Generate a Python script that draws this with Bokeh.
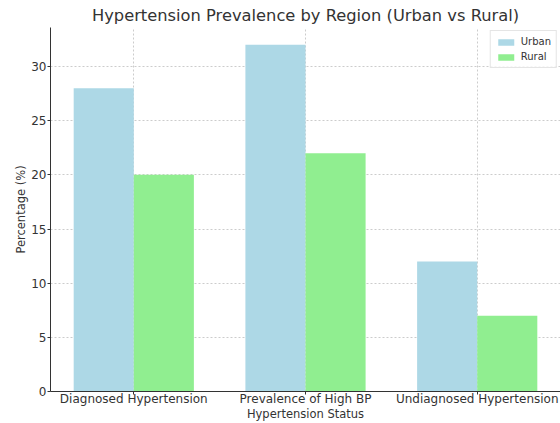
from bokeh.plotting import figure
from bokeh.models import ColumnDataSource, FixedTicker, Legend, LegendItem, Range1d
from bokeh.transform import dodge
from bokeh.embed import file_html
from bokeh.resources import INLINE

categories = ["Diagnosed Hypertension", "Prevalence of High BP", "Undiagnosed Hypertension"]
urban = [28, 32, 12]
rural = [20, 22, 7]
y_ticks = [0, 5, 10, 15, 20, 25, 30]

FONT = "DejaVu Sans"
TXT = "#333333"

src = ColumnDataSource(dict(x=list(range(len(categories))), urban=urban, rural=rural))

p = figure(width=560, height=423, output_backend="svg", toolbar_location=None,
           x_range=Range1d(-0.485, len(categories) - 1 + 0.485),
           y_range=Range1d(0, max(urban) * 1.05),
           min_border_left=50, min_border_right=0, min_border_top=0, min_border_bottom=0)

r1 = p.vbar(x=dodge("x", -0.175, range=p.x_range), top="urban", width=0.35, source=src,
            fill_color="#ADD8E6", line_color=None)
r2 = p.vbar(x=dodge("x", 0.175, range=p.x_range), top="rural", width=0.35, source=src,
            fill_color="#90EE90", line_color=None)

p.title.text = "Hypertension Prevalence by Region (Urban vs Rural)"
p.title.align = "center"
p.title.text_font = FONT
p.title.text_font_size = "16.3px"
p.title.text_font_style = "normal"
p.title.text_color = TXT
p.title.standoff = 6

p.outline_line_color = None

p.xaxis.ticker = FixedTicker(ticks=list(range(len(categories))))
p.xaxis.major_label_overrides = {i: c for i, c in enumerate(categories)}
p.yaxis.ticker = FixedTicker(ticks=y_ticks)

p.xaxis.axis_label = "Hypertension Status"
p.yaxis.axis_label = "Percentage (%)"
for ax in (p.xaxis, p.yaxis):
    ax.axis_label_text_font = FONT
    ax.axis_label_text_font_size = "11.5px"
    ax.axis_label_text_font_style = "normal"
    ax.axis_label_text_color = TXT
    ax.major_label_text_font = FONT
    ax.major_label_text_font_size = "12px"
    ax.major_label_text_color = TXT
    ax.axis_line_color = "#333333"
    ax.major_tick_line_color = "#333333"
    ax.major_tick_out = 3
    ax.major_tick_in = 0
    ax.minor_tick_line_color = None
    ax.major_label_standoff = 1
p.xaxis.major_label_standoff = -3
p.xaxis.axis_label_standoff = -2
p.yaxis.axis_label_standoff = 0

p.xgrid.grid_line_color = "#cccccc"
p.xgrid.grid_line_dash = "2 2"
p.ygrid.grid_line_color = "#cccccc"
p.ygrid.grid_line_dash = "2 2"

legend = Legend(items=[LegendItem(label="Urban", renderers=[r1]),
                       LegendItem(label="Rural", renderers=[r2])],
                location="top_right")
legend.label_text_font = FONT
legend.label_text_font_size = "10px"
legend.label_text_color = TXT
legend.glyph_width = 20
legend.glyph_height = 8
legend.label_height = 10
legend.spacing = 4
legend.padding = 5
legend.margin = 3
legend.border_line_color = "#cccccc"
legend.background_fill_alpha = 0.8
p.add_layout(legend)

open("out.html", "w").write(file_html(p, INLINE))
